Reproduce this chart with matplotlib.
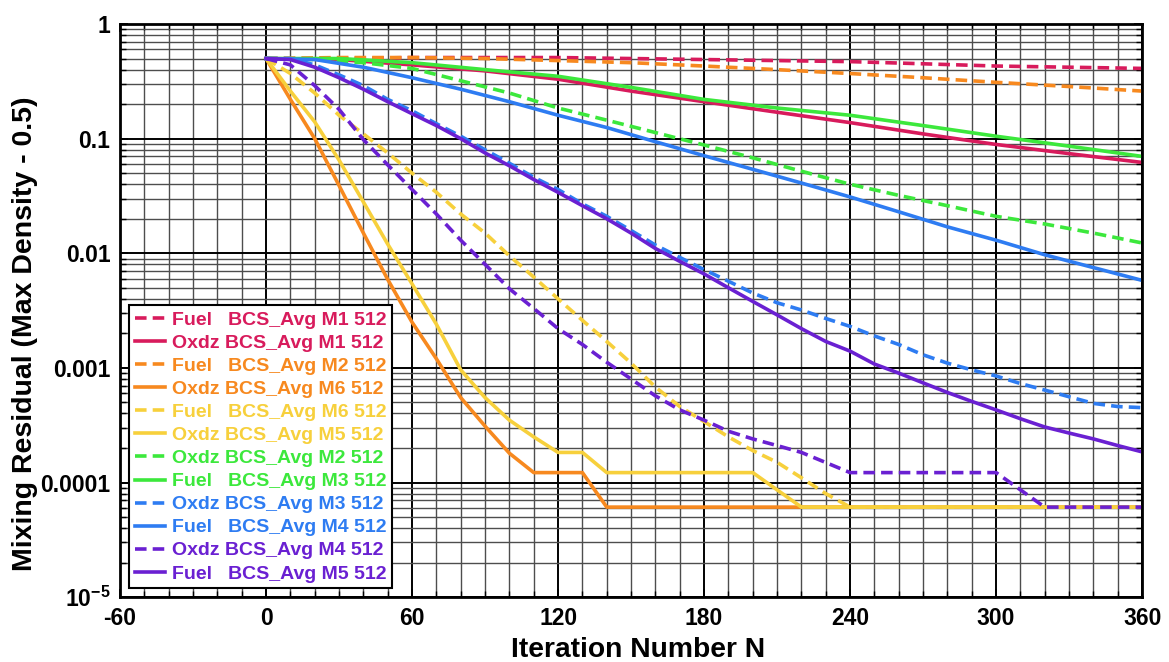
import matplotlib
matplotlib.use("Agg")
import matplotlib.pyplot as plt
from matplotlib.ticker import MultipleLocator, FixedLocator, FixedFormatter, LogLocator, NullFormatter

plt.rcParams['font.family'] = ['Liberation Sans', 'DejaVu Sans']
plt.rcParams['font.weight'] = 'bold'
plt.rcParams['axes.unicode_minus'] = False
plt.rcParams['mathtext.fontset'] = 'custom'
plt.rcParams['mathtext.rm'] = 'Liberation Sans:bold'
plt.rcParams['mathtext.bf'] = 'Liberation Sans:bold'

# ---- residual histories: iteration number -> mixing residual ----
fuel_m1_n = [0, 30, 60, 90, 120, 150, 180, 210, 240, 270, 300, 330, 360]
fuel_m1 = [0.5, 0.5, 0.51, 0.51, 0.51, 0.5, 0.49, 0.48, 0.47, 0.45, 0.43, 0.42, 0.41]

oxdz_m1_n = [0, 30, 60, 90, 120, 150, 180, 210, 240, 270, 300, 330, 360]
oxdz_m1 = [0.5, 0.49, 0.44, 0.39, 0.33, 0.26, 0.21, 0.17, 0.138, 0.11, 0.089, 0.074, 0.062]

fuel_m2_n = [0, 30, 60, 90, 120, 150, 180, 210, 240, 270, 300, 330, 360]
fuel_m2 = [0.5, 0.51, 0.51, 0.5, 0.48, 0.46, 0.43, 0.40, 0.37, 0.34, 0.31, 0.285, 0.26]

oxdz_m6_n = [0, 10, 20, 30, 40, 50, 60, 70, 80, 90, 100, 110, 130, 140, 360]
oxdz_m6 = [0.5, 0.22, 0.1, 0.039, 0.015, 0.0059, 0.0025, 0.0012, 5.5e-4, 3.1e-4, 1.8e-4,
           1.22e-4, 1.22e-4, 6.1e-5, 6.1e-5]

fuel_m6_n = [0, 10, 20, 30, 40, 50, 60, 70, 80, 90, 100, 110, 120, 130, 140, 150, 160,
             170, 180, 190, 200, 210, 220, 230, 240, 360]
fuel_m6 = [0.5, 0.37, 0.25, 0.16, 0.11, 0.075, 0.05, 0.034, 0.022, 0.015, 0.0095, 0.0062,
           0.004, 0.0026, 0.0017, 0.0011, 6.8e-4, 4.6e-4, 3.4e-4, 2.5e-4, 1.9e-4, 1.5e-4,
           1.1e-4, 8e-5, 6.1e-5, 6.1e-5]

oxdz_m5_n = [0, 10, 20, 30, 40, 50, 60, 70, 80, 90, 100, 110, 120, 130, 140, 200, 220, 360]
oxdz_m5 = [0.5, 0.26, 0.14, 0.065, 0.028, 0.012, 0.0054, 0.0024, 9.6e-4, 5.5e-4, 3.5e-4,
           2.5e-4, 1.83e-4, 1.83e-4, 1.22e-4, 1.22e-4, 6.1e-5, 6.1e-5]

oxdz_m2_n = [0, 20, 40, 60, 80, 100, 120, 140, 160, 180, 200, 220, 240, 260, 280, 300, 320, 340, 360]
oxdz_m2 = [0.5, 0.49, 0.46, 0.41, 0.32, 0.25, 0.185, 0.145, 0.113, 0.088, 0.068, 0.052, 0.04,
           0.032, 0.026, 0.021, 0.018, 0.015, 0.0123]

fuel_m3_n = [0, 30, 60, 90, 120, 150, 180, 210, 240, 270, 300, 330, 360]
fuel_m3 = [0.5, 0.5, 0.46, 0.40, 0.35, 0.28, 0.22, 0.185, 0.16, 0.13, 0.105, 0.086, 0.07]

oxdz_m3_n = [0, 10, 20, 30, 40, 50, 60, 70, 80, 90, 100, 110, 120, 130, 140, 150, 160, 170, 180,
             190, 200, 210, 220, 230, 240, 250, 260, 270, 280, 290, 300, 310, 320, 330, 340, 350, 360]
oxdz_m3 = [0.5, 0.5, 0.44, 0.36, 0.29, 0.22, 0.175, 0.135, 0.105, 0.08, 0.061, 0.046, 0.036,
           0.027, 0.021, 0.0158, 0.0118, 0.0092, 0.0072, 0.0057, 0.0045, 0.0037, 0.0032, 0.0027,
           0.0023, 0.0019, 0.0016, 0.0013, 0.0011, 9.6e-4, 8.5e-4, 7.3e-4, 6.4e-4, 5.6e-4,
           4.9e-4, 4.6e-4, 4.5e-4]

fuel_m4_n = [0, 20, 40, 60, 80, 100, 120, 140, 160, 180, 200, 220, 240, 260, 280, 300, 320, 340, 360]
fuel_m4 = [0.5, 0.49, 0.42, 0.34, 0.27, 0.21, 0.16, 0.125, 0.094, 0.071, 0.054, 0.041, 0.031,
           0.023, 0.017, 0.013, 0.0097, 0.0075, 0.0058]

oxdz_m4_n = [0, 10, 20, 30, 40, 50, 60, 70, 80, 90, 100, 110, 120, 130, 140, 150, 160, 170, 180,
             190, 200, 210, 220, 240, 300, 320, 360]
oxdz_m4 = [0.5, 0.44, 0.29, 0.18, 0.098, 0.059, 0.036, 0.022, 0.013, 0.008, 0.0049, 0.0033,
           0.0022, 0.0016, 0.00112, 8e-4, 5.7e-4, 4.3e-4, 3.5e-4, 2.8e-4, 2.4e-4, 2.1e-4,
           1.83e-4, 1.22e-4, 1.22e-4, 6.1e-5, 6.1e-5]

fuel_m5_n = [0, 10, 20, 30, 40, 50, 60, 70, 80, 90, 100, 110, 120, 130, 140, 150, 160, 170, 180,
             190, 200, 210, 220, 230, 240, 250, 260, 270, 280, 290, 300, 310, 320, 330, 340, 350, 360]
fuel_m5 = [0.5, 0.49, 0.42, 0.34, 0.27, 0.21, 0.165, 0.13, 0.1, 0.075, 0.058, 0.044, 0.034,
           0.026, 0.02, 0.015, 0.011, 0.0085, 0.0066, 0.005, 0.0038, 0.0029, 0.0022, 0.0017,
           0.0014, 0.00108, 9e-4, 7.4e-4, 6.1e-4, 5.1e-4, 4.3e-4, 3.6e-4, 3.05e-4, 2.7e-4,
           2.4e-4, 2.1e-4, 1.85e-4]

labels = [
    "Fuel   BCS_Avg M1 512",
    "Oxdz BCS_Avg M1 512",
    "Fuel   BCS_Avg M2 512",
    "Oxdz BCS_Avg M6 512",
    "Fuel   BCS_Avg M6 512",
    "Oxdz BCS_Avg M5 512",
    "Oxdz BCS_Avg M2 512",
    "Fuel   BCS_Avg M3 512",
    "Oxdz BCS_Avg M3 512",
    "Fuel   BCS_Avg M4 512",
    "Oxdz BCS_Avg M4 512",
    "Fuel   BCS_Avg M5 512",
]

series = [
    (fuel_m1_n, fuel_m1), (oxdz_m1_n, oxdz_m1),
    (fuel_m2_n, fuel_m2), (oxdz_m6_n, oxdz_m6),
    (fuel_m6_n, fuel_m6), (oxdz_m5_n, oxdz_m5),
    (oxdz_m2_n, oxdz_m2), (fuel_m3_n, fuel_m3),
    (oxdz_m3_n, oxdz_m3), (fuel_m4_n, fuel_m4),
    (oxdz_m4_n, oxdz_m4), (fuel_m5_n, fuel_m5),
]

CRIMSON = '#D81B5C'
ORANGE = '#F7891F'
YELLOW = '#F7D03C'
GREEN = '#3CE83C'
BLUE = '#2E7CF2'
PURPLE = '#6A20D2'
colors = [CRIMSON, CRIMSON, ORANGE, ORANGE, YELLOW, YELLOW,
          GREEN, GREEN, BLUE, BLUE, PURPLE, PURPLE]
dashed = [True, False, True, False, True, False, True, False, True, False, True, False]

fig = plt.figure(figsize=(11.69, 6.62), dpi=100)
ax = fig.add_axes([0.1027, 0.098, 0.8743, 0.8657])

for (n, r), lab, c, d in zip(series, labels, colors, dashed):
    if d:
        ax.plot(n, r, color=c, lw=2.6, dashes=(3.2, 1.7), label=lab)
    else:
        ax.plot(n, r, color=c, lw=2.6, label=lab)

ax.set_yscale('log')
ax.set_xlim(-60, 360)
ax.set_ylim(1e-5, 1)

# x: labelled every 60, grid every 10
ax.xaxis.set_major_locator(MultipleLocator(60))
ax.xaxis.set_minor_locator(MultipleLocator(10))

# y: decades labelled, 2..9 as minor
ax.yaxis.set_major_locator(FixedLocator([1e-5, 1e-4, 1e-3, 1e-2, 1e-1, 1]))
ax.yaxis.set_major_formatter(FixedFormatter(
    [r'$\mathbf{10^{-5}}$', '0.0001', '0.001', '0.01', '0.1', '1']))
ax.yaxis.set_minor_locator(LogLocator(base=10, subs=range(2, 10), numticks=20))
ax.yaxis.set_minor_formatter(NullFormatter())

ax.grid(which='major', color='black', lw=1.4)
ax.grid(which='minor', color='#4d4d4d', lw=1.0)
ax.set_axisbelow(True)

ax.tick_params(which='both', direction='in', top=True, right=True)
ax.tick_params(which='major', length=6, width=1.3, labelsize=16.5, pad=7)
ax.tick_params(which='minor', length=4, width=1)
for lab in ax.get_xticklabels() + ax.get_yticklabels():
    lab.set_fontweight('bold')
for sp in ax.spines.values():
    sp.set_linewidth(2)

ax.set_xlabel('Iteration Number N', fontsize=20.3, fontweight='bold')
ax.xaxis.set_label_coords(0.507, -0.07)
ax.set_ylabel('Mixing Residual (Max Density - 0.5)', fontsize=20.5, fontweight='bold')
ax.yaxis.set_label_coords(-0.08, 0.46)

leg = ax.legend(loc='lower left', fontsize=14, frameon=True, fancybox=False,
                edgecolor='black', framealpha=1, handlelength=1.55, handletextpad=0.35,
                labelspacing=0.28, borderaxespad=0.45, borderpad=0.3)
leg.get_frame().set_linewidth(1.5)
for txt, c in zip(leg.get_texts(), colors):
    txt.set_color(c)
    txt.set_fontweight('bold')

fig.savefig('out.png', dpi=100)
